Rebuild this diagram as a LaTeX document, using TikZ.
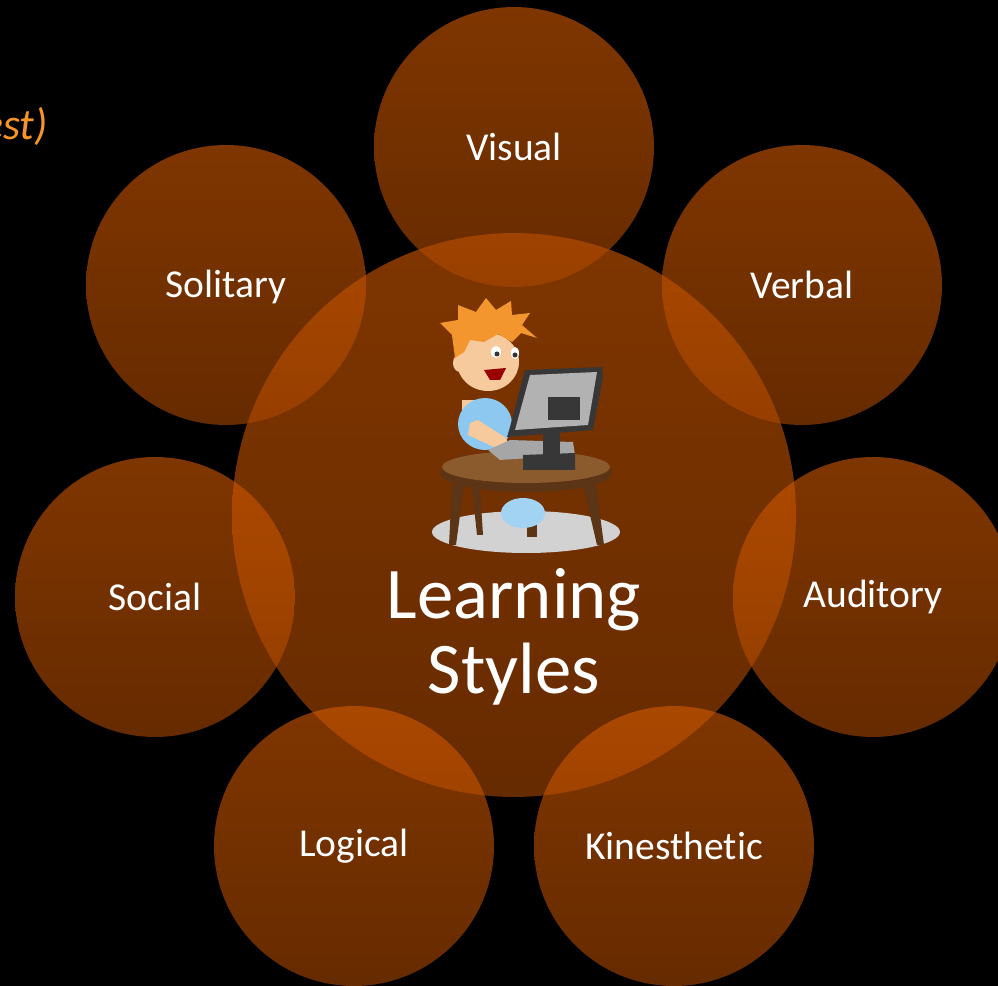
\documentclass[tikz,border=0pt]{standalone}
\usepackage{fontspec}
\setmainfont{Carlito}[Ligatures=NoCommon]
\definecolor{bubtop}{RGB}{212,90,0}
\definecolor{bubbot}{RGB}{172,72,0}
\definecolor{accent}{RGB}{247,150,40}
\definecolor{hair}{RGB}{242,150,45}
\definecolor{skin}{RGB}{247,202,158}
\definecolor{shirt}{RGB}{140,200,240}
\definecolor{wood}{RGB}{139,90,45}
\definecolor{rim}{RGB}{92,52,22}
\definecolor{screen}{RGB}{55,55,55}
\begin{document}
\begin{tikzpicture}[x=0.02cm, y=-0.02cm,
	bubble/.style={circle, minimum size=5.6cm, inner sep=0pt, top color=bubtop, bottom color=bubbot, fill opacity=0.6},
	hub/.style={bubble, minimum size=11.28cm},
	lbl/.style={text=white, font=\fontsize{22.5}{26}\selectfont}]
	\useasboundingbox[fill=black] (0,0) rectangle (998,986);
	\clip (0,0) rectangle (998,986);
	
	% circles
	\node[hub] (hub) at (514,515) {};
	\node[bubble] (visual) at (514,147) {};
	\node[bubble] (verbal) at (802,285) {};
	\node[bubble] (auditory) at (873,597) {};
	\node[bubble] (kines) at (674,846) {};
	\node[bubble] (logical) at (354,846) {};
	\node[bubble] (social) at (155,597) {};
	\node[bubble] (solitary) at (226,285) {};
	
	% labels
	\node[lbl] (visual-t) at (visual) {Visual};
	\node[lbl] (verbal-t) at (verbal) {Verbal};
	\node[lbl] (auditory-t) at (auditory) {Auditory};
	\node[lbl] (kines-t) at (kines) {Kinesthetic};
	\node[lbl] (logical-t) at (logical) {Logical};
	\node[lbl] (social-t) at (social) {Social};
	\node[lbl] (solitary-t) at (solitary.center) [yshift=-0.03cm] {Solitary};
	\node[text=white, align=center, font=\fontsize{41.4}{42.5}\selectfont] (hub-t) at (514,637) {Learning\\Styles};
	\node[text=accent, anchor=base east, font=\fontsize{25}{30}\selectfont\itshape] (note) at (54,140) {est)};
	
	% boy at the computer
	\fill[gray!35] (526,532) ellipse [x radius=94, y radius=21];
	\fill[rim] (472,488) -- (480,488) -- (483,535) -- (477,535) -- cycle;
	\fill[rim] (527,500) -- (537,500) -- (537,537) -- (527,537) -- cycle;
	\fill[rim] (460,455) rectangle (468,470);
	\fill[skin] (462,400) rectangle (476,420);
	\fill[shirt] (485,424) ellipse [x radius=27, y radius=26];
	\fill[skin] (470,423) -- (478,420) -- (506,438) -- (510,448) -- (500,450) -- (468,435) -- cycle;
	\fill[skin] (488,362) ellipse [x radius=31, y radius=29];
	\fill[skin] (460,363) ellipse [x radius=7, y radius=9];
	\fill[hair] (455,358) -- (452,335) -- (440,323) -- (458,320) -- (458,305) -- (476,312) -- (486,298) -- (496,310) -- (511,301) -- (512,315) -- (530,313) -- (522,325) -- (537,338) -- (521,333) -- (512,342) -- (498,334) -- (484,342) -- (470,340) -- (464,352) -- cycle;
	\fill[white] (496,352) ellipse [x radius=5, y radius=6];
	\fill[white] (515,353) ellipse [x radius=4, y radius=6];
	\fill[black!80] (497,354) circle (2.5);
	\fill[black!80] (515,355) circle (2.5);
	\fill[red!60!black] (484,370) -- (506,368) -- (500,380) -- (490,380) -- cycle;
	\fill[rim] (526,473) ellipse [x radius=86, y radius=19];
	\fill[wood] (526,467) ellipse [x radius=84, y radius=16];
	\fill[rim] (452,485) -- (464,485) -- (456,545) -- (449,545) -- cycle;
	\fill[rim] (583,485) -- (596,485) -- (604,545) -- (597,545) -- cycle;
	\fill[shirt!80] (523,513) ellipse [x radius=22, y radius=15];
	\fill[gray!70] (488,450) -- (510,440) -- (573,442) -- (575,455) -- (500,460) -- cycle;
	\fill[screen] (523,455) -- (575,453) -- (575,470) -- (523,470) -- cycle;
	\fill[screen] (543,420) rectangle (560,460);
	\fill[screen] (525,370) -- (602,367) -- (603,377) -- (593,430) -- (507,437) -- (510,427) -- cycle;
	\fill[gray!60] (530,375) -- (597,372) -- (588,425) -- (515,430) -- cycle;
	\fill[screen] (548,397) rectangle (580,420);
\end{tikzpicture}
\end{document}
